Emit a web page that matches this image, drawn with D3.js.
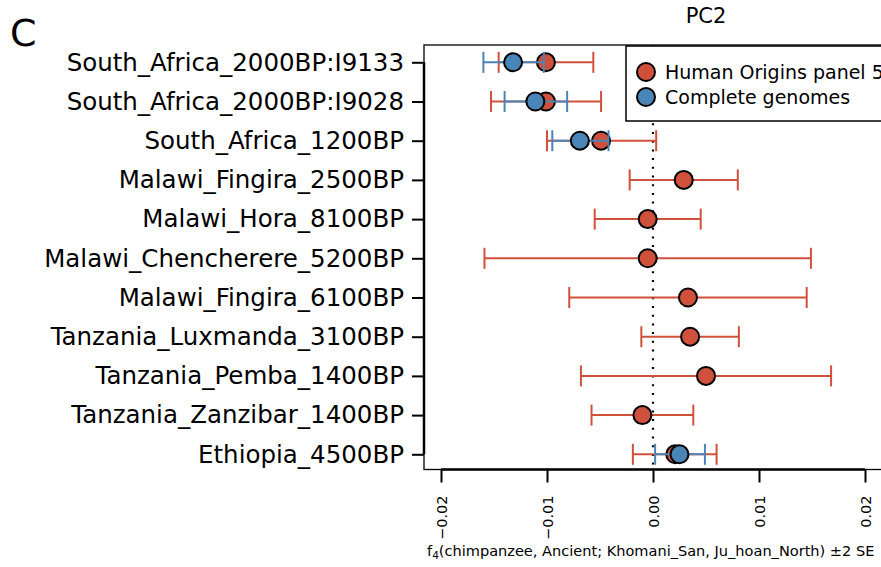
<!DOCTYPE html>
<html>
<head>
<meta charset="utf-8">
<script src="https://cdn.jsdelivr.net/npm/d3@7"></script>
<style>
html,body{margin:0;padding:0;background:#fff;}
svg{display:block;font-family:"DejaVu Sans",sans-serif;}
</style>
</head>
<body>
<svg id="chart" width="881" height="567"></svg>
<script>
// ---- data ----
const categories = [
  "South_Africa_2000BP:I9133",
  "South_Africa_2000BP:I9028",
  "South_Africa_1200BP",
  "Malawi_Fingira_2500BP",
  "Malawi_Hora_8100BP",
  "Malawi_Chencherere_5200BP",
  "Malawi_Fingira_6100BP",
  "Tanzania_Luxmanda_3100BP",
  "Tanzania_Pemba_1400BP",
  "Tanzania_Zanzibar_1400BP",
  "Ethiopia_4500BP"
];
// Human Origins panel 5
const hoValue = [-0.0101, -0.0101, -0.0049, 0.0029, -0.0005, -0.0005, 0.0033, 0.0035, 0.0050, -0.0010, 0.0021];
const hoLow   = [-0.01456, -0.01528, -0.0100, -0.0022, -0.0055, -0.0159, -0.0079, -0.0011, -0.0068, -0.0058, -0.0019];
const hoHigh  = [-0.00563, -0.0049, 0.0003, 0.0080, 0.0045, 0.0149, 0.0145, 0.0081, 0.0168, 0.0038, 0.0060];
// Complete genomes (null = not available)
const cgValue = [-0.0132, -0.0111, -0.0069, null, null, null, null, null, null, null, 0.0025];
const cgLow   = [-0.0160, -0.0140, -0.0095, null, null, null, null, null, null, null, 0.0002];
const cgHigh  = [-0.0103, -0.0081, -0.0042, null, null, null, null, null, null, null, 0.0049];
const xTicks = [-0.02, -0.01, 0.00, 0.01, 0.02];
const seriesNames = ["Human Origins panel 5", "Complete genomes"];
const seriesColors = ["#D0513B", "#4A85B8"];
const title = "PC2";
const panelLetter = "C";

// ---- layout ----
const svg = d3.select("#chart");
const box = {left: 424, top: 45, right: 1000, bottom: 469.5};
const x = d3.scaleLinear().domain([-0.02, 0.02]).range([441, 865]);
const y = d3.scalePoint().domain(categories).range([62.3, 454.3]);

// panel letter & title
svg.append("text").attr("x", 10).attr("y", 46).attr("font-size", 38).text(panelLetter);
svg.append("text").attr("x", 706).attr("y", 23).attr("text-anchor", "middle")
  .attr("font-size", 21).text(title);

// plot frame
svg.append("rect").attr("x", box.left).attr("y", box.top)
  .attr("width", box.right - box.left).attr("height", box.bottom - box.top)
  .attr("fill", "none").attr("stroke", "#000").attr("stroke-width", 1.3);

// zero line (dotted)
svg.append("line").attr("x1", x(0)).attr("x2", x(0))
  .attr("y1", box.top).attr("y2", box.bottom)
  .attr("stroke", "#000").attr("stroke-width", 2.2)
  .attr("stroke-dasharray", "2 6.7");

function drawSeries(vals, lows, highs, color) {
  const d = categories.map((c, i) => ({c, v: vals[i], lo: lows[i], hi: highs[i]}))
    .filter(e => e.v !== null);
  const g = svg.append("g");
  const cap = 10.5;
  g.selectAll("line.bar").data(d).join("line")
    .attr("x1", e => x(e.lo)).attr("x2", e => x(e.hi))
    .attr("y1", e => y(e.c)).attr("y2", e => y(e.c))
    .attr("stroke", color).attr("stroke-width", 2);
  g.selectAll("line.capl").data(d).join("line")
    .attr("x1", e => x(e.lo)).attr("x2", e => x(e.lo))
    .attr("y1", e => y(e.c) - cap).attr("y2", e => y(e.c) + cap)
    .attr("stroke", color).attr("stroke-width", 2);
  g.selectAll("line.capr").data(d).join("line")
    .attr("x1", e => x(e.hi)).attr("x2", e => x(e.hi))
    .attr("y1", e => y(e.c) - cap).attr("y2", e => y(e.c) + cap)
    .attr("stroke", color).attr("stroke-width", 2);
  g.selectAll("circle").data(d).join("circle")
    .attr("cx", e => x(e.v)).attr("cy", e => y(e.c)).attr("r", 9)
    .attr("fill", color).attr("stroke", "#000").attr("stroke-width", 2);
}
drawSeries(hoValue, hoLow, hoHigh, seriesColors[0]);
drawSeries(cgValue, cgLow, cgHigh, seriesColors[1]);

// y axis
const yAxis = svg.append("g").attr("transform", `translate(${box.left},0)`)
  .call(d3.axisLeft(y).tickSize(12).tickPadding(8));
yAxis.select(".domain").attr("stroke-width", 2.5).attr("d", `M0,${y(categories[0])}V${y(categories[categories.length-1])}`);
yAxis.selectAll(".tick line").attr("stroke-width", 2);
yAxis.selectAll(".tick text").attr("font-size", 24.5).attr("font-family", "DejaVu Sans").attr("fill", "#000");

// x axis
const xAxis = svg.append("g").attr("transform", `translate(0,${box.bottom})`)
  .call(d3.axisBottom(x).tickValues(xTicks).tickSize(13).tickFormat(d3.format(".2f")));
xAxis.select(".domain").attr("stroke-width", 2.5).attr("d", `M${x(xTicks[0])},0H${x(xTicks[xTicks.length-1])}`);
xAxis.selectAll(".tick line").attr("stroke-width", 2);
xAxis.selectAll(".tick text")
  .attr("font-size", 14.5).attr("font-family", "DejaVu Sans").attr("fill", "#000")
  .attr("text-anchor", "end").attr("dy", null).attr("y", null)
  .attr("transform", "translate(5.5,26) rotate(-90)");

// x axis title with subscript
const xt = svg.append("text").attr("x", 427).attr("y", 556).attr("font-size", 14.55);
xt.append("tspan").text("f");
xt.append("tspan").attr("font-size", 10.5).attr("dy", 3).text("4");
xt.append("tspan").attr("dy", -3).text("(chimpanzee, Ancient; Khomani_San, Ju_hoan_North) \u00B12 SE");

// legend
const lg = svg.append("g");
lg.append("rect").attr("x", 626).attr("y", 46).attr("width", 400).attr("height", 75)
  .attr("fill", "#fff").attr("stroke", "#000").attr("stroke-width", 1.5);
seriesNames.forEach((n, i) => {
  const cy = 72 + i * 25;
  lg.append("circle").attr("cx", 646).attr("cy", cy).attr("r", 9)
    .attr("fill", seriesColors[i]).attr("stroke", "#000").attr("stroke-width", 2);
  lg.append("text").attr("x", 665).attr("y", cy + 7).attr("font-size", 19).text(n);
});
</script>
</body>
</html>
